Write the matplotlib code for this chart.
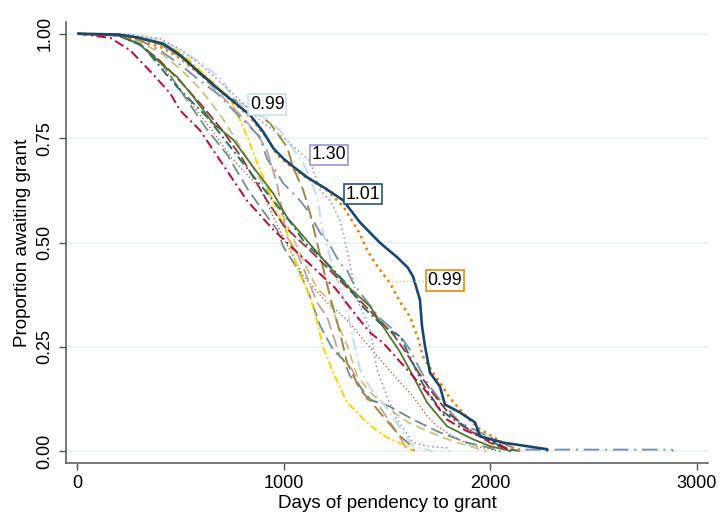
import matplotlib
matplotlib.use('Agg')
import matplotlib.pyplot as plt

plt.rcParams['font.family'] = ['Liberation Sans', 'DejaVu Sans']

# ---------------- data (days, proportion awaiting grant) ----------------
navy_d = [0, 200, 300, 416, 500, 595, 700, 837, 900, 950, 1000, 1050, 1113, 1200, 1287, 1369, 1466, 1548, 1600, 1626, 1659, 1669, 1684, 1708, 1756, 1780, 1853, 1926, 1950, 2060, 2274, 2275]
navy_p = [1.0, 0.998, 0.99, 0.976, 0.948, 0.905, 0.86, 0.805, 0.765, 0.725, 0.70, 0.68, 0.656, 0.63, 0.601, 0.548, 0.499, 0.465, 0.44, 0.418, 0.363, 0.30, 0.25, 0.188, 0.155, 0.112, 0.093, 0.069, 0.036, 0.021, 0.005, 0.0]

orange_d = [0, 200, 300, 416, 500, 600, 700, 837, 919, 967, 1050, 1127, 1209, 1290, 1369, 1403, 1450, 1514, 1560, 1611, 1650, 1674, 1720, 1756, 1800, 1853, 1900, 1950, 2032, 2100, 2150]
orange_p = [1.0, 0.997, 0.985, 0.965, 0.94, 0.90, 0.86, 0.80, 0.75, 0.71, 0.675, 0.65, 0.625, 0.585, 0.52, 0.482, 0.445, 0.403, 0.36, 0.322, 0.27, 0.227, 0.19, 0.165, 0.13, 0.10, 0.075, 0.053, 0.029, 0.01, 0.0]

bgray_d = [0, 250, 400, 500, 600, 700, 755, 850, 920, 982, 1030, 1094, 1130, 1161, 1190, 1239, 1306, 1336, 1369, 1420, 1466, 1514, 1577, 1626, 1700, 1720]
bgray_p = [1.0, 0.998, 0.985, 0.96, 0.93, 0.89, 0.845, 0.815, 0.795, 0.768, 0.735, 0.69, 0.65, 0.608, 0.523, 0.44, 0.339, 0.267, 0.196, 0.15, 0.124, 0.093, 0.045, 0.012, 0.003, 0.0]

lav_d = [0, 250, 402, 500, 600, 700, 800, 885, 1000, 1127, 1176, 1224, 1272, 1306, 1355, 1418, 1451, 1500, 1548, 1626, 1700, 1790, 1800]
lav_p = [1.0, 0.998, 0.988, 0.962, 0.925, 0.88, 0.835, 0.792, 0.75, 0.695, 0.625, 0.60, 0.553, 0.482, 0.363, 0.291, 0.196, 0.131, 0.076, 0.021, 0.012, 0.008, 0.0]

brown_d = [0, 250, 400, 500, 600, 700, 800, 871, 934, 1016, 1045, 1094, 1127, 1161, 1224, 1272, 1306, 1369, 1420, 1480, 1563, 1626, 1630]
brown_p = [1.0, 0.995, 0.975, 0.945, 0.905, 0.86, 0.83, 0.809, 0.785, 0.728, 0.68, 0.625, 0.57, 0.499, 0.37, 0.284, 0.212, 0.148, 0.12, 0.084, 0.036, 0.01, 0.0]

gold_d = [0, 250, 400, 500, 643, 740, 822, 871, 933, 967, 1016, 1064, 1127, 1161, 1190, 1239, 1306, 1355, 1400, 1450, 1514, 1611, 1620]
gold_p = [1.0, 0.997, 0.98, 0.955, 0.89, 0.845, 0.755, 0.69, 0.62, 0.575, 0.523, 0.44, 0.37, 0.31, 0.25, 0.188, 0.117, 0.093, 0.07, 0.05, 0.029, 0.01, 0.0]

teal_d = [0, 200, 300, 400, 464, 532, 629, 726, 822, 900, 968, 997, 1079, 1127, 1176, 1239, 1287, 1321, 1369, 1418, 1514, 1626, 1756, 1887, 2000, 2050]
teal_p = [1.0, 0.996, 0.975, 0.935, 0.89, 0.84, 0.77, 0.71, 0.63, 0.575, 0.53, 0.49, 0.427, 0.37, 0.30, 0.243, 0.22, 0.18, 0.155, 0.124, 0.107, 0.076, 0.045, 0.021, 0.008, 0.0]

khaki_d = [0, 200, 300, 400, 500, 600, 700, 800, 900, 1000, 1100, 1161, 1224, 1258, 1306, 1355, 1420, 1514, 1600, 1674, 1760, 1838, 1950, 1980]
khaki_p = [1.0, 0.996, 0.98, 0.955, 0.915, 0.865, 0.80, 0.72, 0.64, 0.56, 0.45, 0.39, 0.36, 0.308, 0.255, 0.18, 0.14, 0.10, 0.07, 0.053, 0.035, 0.021, 0.005, 0.0]

erose_d = [0, 250, 400, 500, 600, 700, 800, 870, 919, 967, 1016, 1064, 1094, 1161, 1209, 1272, 1330, 1369, 1403, 1451, 1500, 1548, 1577, 1600]
erose_p = [1.0, 0.996, 0.975, 0.945, 0.90, 0.85, 0.80, 0.76, 0.72, 0.64, 0.513, 0.475, 0.44, 0.356, 0.322, 0.227, 0.196, 0.155, 0.124, 0.117, 0.08, 0.045, 0.021, 0.0]

sienna_d = [0, 200, 300, 400, 525, 650, 750, 885, 950, 1000, 1094, 1200, 1306, 1380, 1466, 1563, 1626, 1693, 1742, 1820, 1900, 2000, 2050]
sienna_p = [1.0, 0.995, 0.975, 0.93, 0.85, 0.77, 0.70, 0.63, 0.56, 0.51, 0.42, 0.36, 0.315, 0.27, 0.22, 0.165, 0.131, 0.085, 0.06, 0.036, 0.015, 0.005, 0.0]

emid_d = [0, 200, 300, 400, 500, 600, 677, 788, 885, 919, 967, 997, 1079, 1113, 1176, 1209, 1272, 1306, 1336, 1384, 1466, 1514, 1577, 1611, 1659, 1700, 1760, 1850, 1950, 2095, 2150, 2880, 2885]
emid_p = [1.0, 0.997, 0.985, 0.96, 0.925, 0.885, 0.857, 0.80, 0.752, 0.70, 0.666, 0.642, 0.60, 0.578, 0.523, 0.506, 0.45, 0.434, 0.403, 0.37, 0.318, 0.298, 0.267, 0.243, 0.196, 0.16, 0.12, 0.07, 0.045, 0.012, 0.004, 0.004, 0.0]

emer_d = [0, 200, 319, 435, 484, 629, 755, 850, 982, 1045, 1100, 1190, 1306, 1384, 1480, 1563, 1626, 1674, 1756, 1867, 1984, 2050, 2100, 2150]
emer_p = [1.0, 0.996, 0.97, 0.90, 0.872, 0.80, 0.72, 0.66, 0.58, 0.54, 0.50, 0.46, 0.40, 0.345, 0.30, 0.275, 0.21, 0.16, 0.10, 0.06, 0.029, 0.012, 0.004, 0.0]

forest_d = [0, 200, 300, 402, 484, 560, 658, 755, 851, 948, 1016, 1120, 1224, 1320, 1418, 1500, 1560, 1626, 1693, 1790, 1915, 2000, 2080, 2100]
forest_p = [1.0, 0.996, 0.975, 0.93, 0.896, 0.85, 0.785, 0.746, 0.681, 0.618, 0.56, 0.50, 0.44, 0.39, 0.347, 0.284, 0.24, 0.18, 0.117, 0.06, 0.029, 0.012, 0.003, 0.0]

maroon_d = [0, 200, 300, 400, 500, 600, 700, 800, 919, 1000, 1064, 1150, 1250, 1350, 1450, 1530, 1600, 1650, 1720, 1800, 1900, 2000, 2080, 2100]
maroon_p = [1.0, 0.995, 0.975, 0.935, 0.885, 0.83, 0.77, 0.70, 0.60, 0.54, 0.51, 0.47, 0.42, 0.37, 0.32, 0.28, 0.23, 0.19, 0.14, 0.09, 0.05, 0.02, 0.005, 0.0]

cran_d = [0, 160, 256, 353, 450, 498, 595, 700, 822, 950, 1100, 1250, 1355, 1418, 1480, 1611, 1693, 1790, 1880, 1950, 2032, 2100]
cran_p = [1.0, 0.99, 0.96, 0.91, 0.857, 0.816, 0.768, 0.69, 0.60, 0.53, 0.46, 0.39, 0.322, 0.284, 0.26, 0.188, 0.141, 0.076, 0.05, 0.036, 0.02, 0.0]

# labels: text, x (days), y (proportion), series colour key
label_text = ['0.99', '1.30', '1.01', '0.99']
label_x = [919, 1217, 1384, 1780]
label_y = [0.83, 0.71, 0.616, 0.409]
label_key = ['bgray', 'lav', 'navy', 'orange']

x_ticks = [0, 1000, 2000, 3000]
y_ticks = [0.0, 0.25, 0.5, 0.75, 1.0]
y_ticklabels = ['0.00', '0.25', '0.50', '0.75', '1.00']

# ---------------- styles ----------------
colors = {
    'navy': '#1a476f', 'maroon': '#90353b', 'forest': '#55752f', 'orange': '#e37e00',
    'teal': '#6e8e84', 'cran': '#c10534', 'lav': '#938dd2', 'khaki': '#cac27e',
    'sienna': '#a0522d', 'emid': '#7b92a8', 'emer': '#2d6d66', 'brown': '#9c8847',
    'erose': '#bfa19c', 'gold': '#ffd200', 'bgray': '#c9dde6',
}

series = [
    ('sienna', sienna_d, sienna_p, (0, (1, 2)), 0.9),
    ('khaki', khaki_d, khaki_p, (0, (5, 3)), 1.3),
    ('erose', erose_d, erose_p, (0, (7, 3)), 1.3),
    ('teal', teal_d, teal_p, (0, (7, 3)), 1.3),
    ('gold', gold_d, gold_p, (0, (1, 1.5, 4, 1.5)), 1.4),
    ('brown', brown_d, brown_p, (0, (7, 3)), 1.4),
    ('bgray', bgray_d, bgray_p, (0, (6, 2, 1, 2)), 1.5),
    ('lav', lav_d, lav_p, (0, (1, 2)), 1.1),
    ('emid', emid_d, emid_p, (0, (8, 3, 1, 3)), 1.4),
    ('maroon', maroon_d, maroon_p, (0, (6, 2)), 1.3),
    ('forest', forest_d, forest_p, '-', 1.3),
    ('emer', emer_d, emer_p, (0, (5, 2, 1, 2)), 1.4),
    ('cran', cran_d, cran_p, (0, (5, 2, 1, 2)), 1.4),
    ('orange', orange_d, orange_p, (0, (1, 1.6)), 1.8),
    ('navy', navy_d, navy_p, '-', 1.9),
]

fig = plt.figure(figsize=(7.21, 5.13), dpi=100)
ax = fig.add_axes([66 / 721, 1 - 463 / 513, (708 - 66) / 721, (463 - 22) / 513])

for key, d, p, ls, lw in series:
    ax.plot(d, p, color=colors[key], linestyle=ls, linewidth=lw,
            solid_capstyle='butt', dash_capstyle='butt')

# leader line for the orange label
ax.plot([1505, 1683], [0.409, 0.409], color='#f2b27a', linestyle=(0, (1, 2)), linewidth=0.9)

for t, x, y, k in zip(label_text, label_x, label_y, label_key):
    ax.text(x, y, t, fontsize=12.8, ha='center', va='center', color='black',
            bbox=dict(boxstyle='square,pad=0.1', facecolor='white',
                      edgecolor=colors[k], linewidth=1.1), zorder=5)

ax.set_xlim(-55, 3054)
ax.set_ylim(-0.028, 1.028)
ax.set_xticks(x_ticks)
ax.set_xticklabels([str(v) for v in x_ticks])
ax.set_yticks(y_ticks)
ax.set_yticklabels(y_ticklabels, rotation=90, va='center')

ax.yaxis.grid(True, color='#eaf2f3', linewidth=1.2)
ax.set_axisbelow(True)

for s in ['top', 'right']:
    ax.spines[s].set_visible(False)
for s in ['left', 'bottom']:
    ax.spines[s].set_color('#555555')
    ax.spines[s].set_linewidth(1.1)

ax.tick_params(axis='both', colors='#555555', labelcolor='black', labelsize=13,
               length=5, width=1.0)
ax.tick_params(axis='x', pad=4)
ax.tick_params(axis='y', pad=4)

ax.set_xlabel('Days of pendency to grant', fontsize=13.5, labelpad=2)
ax.set_ylabel('Proportion awaiting grant', fontsize=13.5, labelpad=4)

fig.savefig('out.png', dpi=100)
